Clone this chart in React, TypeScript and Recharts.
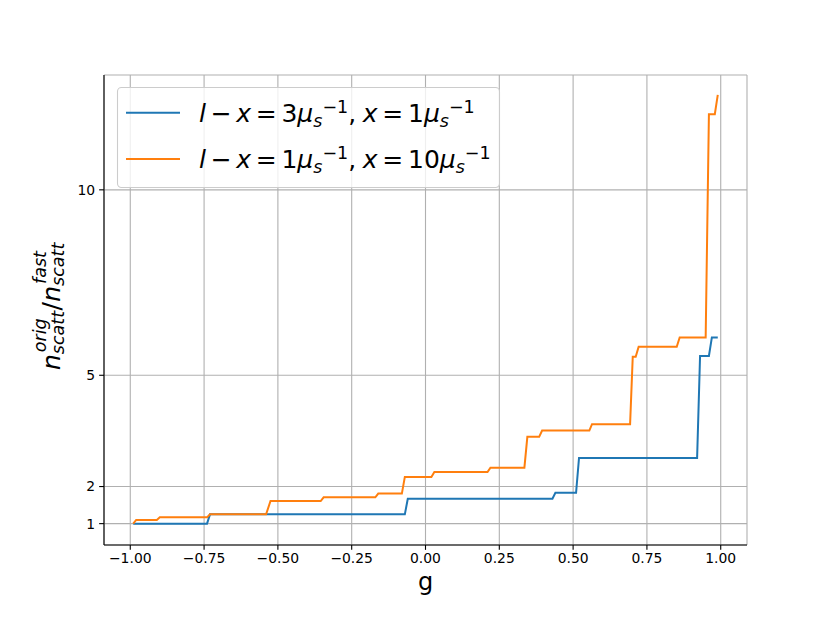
import React from 'react';
import { LineChart, Line, XAxis, YAxis, CartesianGrid } from 'recharts';

// g values and ratio n_orig / n_fast
const blueG = [-0.99, -0.74, -0.73, -0.07, -0.06, 0.43, 0.44, 0.51, 0.52, 0.92, 0.93, 0.96, 0.97, 0.99];
const blueRatio = [1.0, 1.0, 1.25, 1.25, 1.67, 1.67, 1.83, 1.83, 2.77, 2.77, 5.52, 5.52, 6.02, 6.02];

const orangeG = [
  -0.99, -0.98, -0.91, -0.9, -0.74, -0.73, -0.54, -0.525, -0.355, -0.345, -0.17, -0.16, -0.08, -0.07,
  0.02, 0.03, 0.21, 0.22, 0.335, 0.345, 0.385, 0.395, 0.555, 0.564, 0.693, 0.702, 0.712, 0.722, 0.851,
  0.861, 0.949, 0.96, 0.98, 0.99,
];
const orangeRatio = [
  1.0, 1.1, 1.1, 1.17, 1.17, 1.25, 1.25, 1.61, 1.61, 1.71, 1.71, 1.81, 1.81, 2.26,
  2.26, 2.39, 2.39, 2.51, 2.51, 3.34, 3.34, 3.51, 3.51, 3.68, 3.68, 5.5, 5.5, 5.77, 5.77,
  6.02, 6.02, 12.04, 12.04, 12.56,
];

const xTicks = [-1, -0.75, -0.5, -0.25, 0, 0.25, 0.5, 0.75, 1];
const yTicks = [1, 2, 5, 10];

const blueData = blueG.map((g, i) => ({ x: g, y: blueRatio[i] }));
const orangeData = orangeG.map((g, i) => ({ x: g, y: orangeRatio[i] }));

const BLUE = '#1f77b4';
const ORANGE = '#ff7f0e';
const FONT = 'DejaVu Sans';

const fmtX = (v: number) => (v < 0 ? '\u2212' : '') + Math.abs(v).toFixed(2);

const tickStyle = { fontSize: 13.9, fontFamily: FONT, fill: '#000' };

const sp = 4.7;

function LegendRow({ y, a, b }: { y: number; a: string; b: string }) {
  return (
    <text x={199} y={y} fontSize={25} fontFamily={FONT} fill="#000">
      <tspan fontStyle="italic">l</tspan>
      <tspan dx={sp}>{'\u2212'}</tspan>
      <tspan dx={sp} fontStyle="italic">x</tspan>
      <tspan dx={sp}>=</tspan>
      <tspan dx={sp}>{a}</tspan>
      <tspan fontStyle="italic">{'\u03bc'}</tspan>
      <tspan fontSize={17.5} fontStyle="italic" dy={5}>s</tspan>
      <tspan fontSize={17.5} dy={-13.5}>{'\u22121'}</tspan>
      <tspan dy={8.5}>,</tspan>
      <tspan dx={sp + 2} fontStyle="italic">x</tspan>
      <tspan dx={sp}>=</tspan>
      <tspan dx={sp}>{b}</tspan>
      <tspan fontStyle="italic">{'\u03bc'}</tspan>
      <tspan fontSize={17.5} fontStyle="italic" dy={5}>s</tspan>
      <tspan fontSize={17.5} dy={-13.5}>{'\u22121'}</tspan>
    </text>
  );
}

export default function App() {
  return (
    <div style={{ position: 'absolute', left: 0, top: 0, width: 830, height: 623, background: '#fff' }}>
      <LineChart width={830} height={623} data={blueData} margin={{ top: 75, right: 83, bottom: 48, left: 0 }}>
        <CartesianGrid stroke="#b0b0b0" strokeWidth={1.1} />
        <XAxis
          dataKey="x"
          type="number"
          domain={[-1.089, 1.089]}
          allowDataOverflow
          ticks={xTicks}
          interval={0}
          tickFormatter={fmtX}
          tick={tickStyle}
          tickSize={4.86}
          tickMargin={3}
          tickLine={{ stroke: '#000', strokeWidth: 1.1 }}
          axisLine={{ stroke: '#000', strokeWidth: 1.1 }}
          height={30}
        />
        <XAxis
          xAxisId="top"
          orientation="top"
          dataKey="x"
          type="number"
          domain={[-1.089, 1.089]}
          allowDataOverflow
          tick={false}
          tickLine={false}
          axisLine={{ stroke: '#000', strokeWidth: 1.1 }}
          height={0}
        />
        <YAxis
          type="number"
          domain={[0.424, 13.096]}
          allowDataOverflow
          ticks={yTicks}
          interval={0}
          tick={tickStyle}
          tickSize={4.86}
          tickMargin={4}
          tickLine={{ stroke: '#000', strokeWidth: 1.1 }}
          axisLine={{ stroke: '#000', strokeWidth: 1.1 }}
          width={104}
        />
        <YAxis
          yAxisId="right"
          orientation="right"
          type="number"
          domain={[0.424, 13.096]}
          tick={false}
          tickLine={false}
          axisLine={{ stroke: '#000', strokeWidth: 1.1 }}
          width={0}
        />
        <Line
          data={blueData}
          dataKey="y"
          type="linear"
          stroke={BLUE}
          strokeWidth={2}
          dot={false}
          activeDot={false}
          isAnimationActive={false}
        />
        <Line
          data={orangeData}
          dataKey="y"
          type="linear"
          stroke={ORANGE}
          strokeWidth={2}
          dot={false}
          activeDot={false}
          isAnimationActive={false}
        />
      </LineChart>
      <svg
        width={830}
        height={623}
        style={{ position: 'absolute', left: 0, top: 0, pointerEvents: 'none' }}
      >
        {/* legend */}
        <rect x={117.5} y={87.5} width={382} height={100} rx={4} fill="#fff" fillOpacity={0.8} stroke="#cccccc" strokeWidth={1.1} />
        <line x1={126} x2={180} y1={112.7} y2={112.7} stroke={BLUE} strokeWidth={2} />
        <line x1={126} x2={180} y1={159} y2={159} stroke={ORANGE} strokeWidth={2} />
        <LegendRow y={121.5} a="3" b="1" />
        <LegendRow y={167.5} a="1" b="10" />
        {/* x label */}
        <text x={425.5} y={590} textAnchor="middle" fontSize={24} fontFamily={FONT} fill="#000">g</text>
        {/* y label */}
        <g transform="translate(60.3,0) rotate(-90)" fontFamily={FONT} fill="#000">
          <text x={-370} y={0} fontSize={25} fontStyle="italic">n</text>
          <text x={-354.2} y={4} fontSize={17.5} fontStyle="italic">scatt</text>
          <text x={-352.2} y={-14} fontSize={17.5} fontStyle="italic">orig</text>
          <text x={-310.5} y={0} fontSize={25}>/</text>
          <text x={-301.8} y={0} fontSize={25} fontStyle="italic">n</text>
          <text x={-285.9} y={4} fontSize={17.5} fontStyle="italic">scatt</text>
          <text x={-283.9} y={-14} fontSize={17.5} fontStyle="italic">fast</text>
        </g>
      </svg>
    </div>
  );
}
